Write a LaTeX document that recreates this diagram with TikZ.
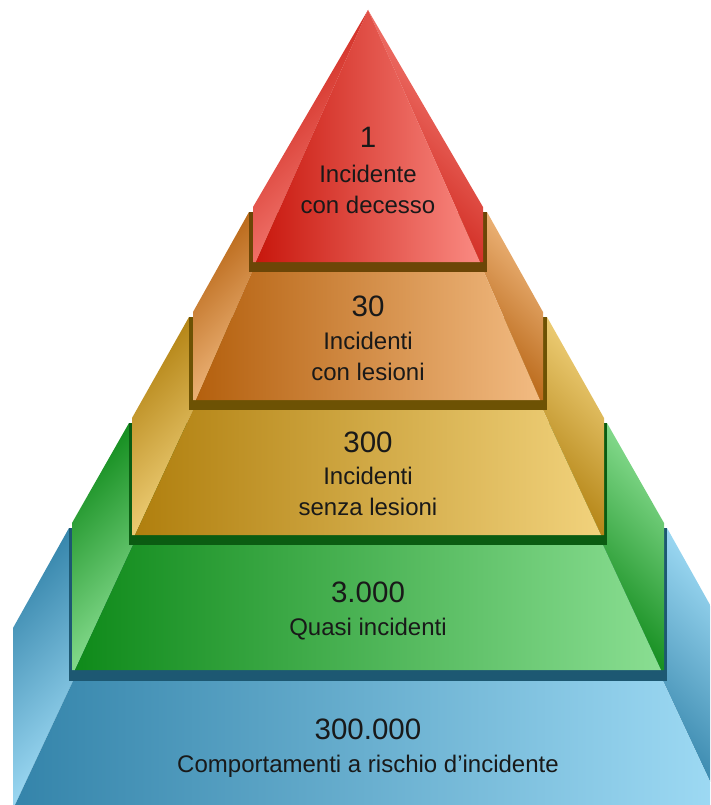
\documentclass[tikz,border=0pt]{standalone}
\usepackage{fontspec}
\setmainfont{Liberation Sans}
\usetikzlibrary{positioning}

% face colours: D = dark (left), L = light (right), F = rim under the tier above
\definecolor{redD}{HTML}{C8170D}
\definecolor{redL}{HTML}{FA8A82}
\definecolor{orgD}{HTML}{B4600E}
\definecolor{orgL}{HTML}{F2BB82}
\definecolor{orgF}{HTML}{6C4607}
\definecolor{yelD}{HTML}{B07F0E}
\definecolor{yelL}{HTML}{F1D27C}
\definecolor{yelF}{HTML}{6D5204}
\definecolor{grnD}{HTML}{0F8A1A}
\definecolor{grnL}{HTML}{8ADE92}
\definecolor{grnF}{HTML}{0B5C12}
\definecolor{bluD}{HTML}{3484AA}
\definecolor{bluL}{HTML}{9EDAF4}
\definecolor{bluF}{HTML}{1D5872}

\begin{document}
\begin{tikzpicture}[x=1pt, y=-1pt]
  \tikzstyle{num} = [anchor=base, inner sep=0pt, text=black!90, font=\fontsize{29.5}{34}\selectfont]
  \tikzstyle{lbl} = [anchor=base, inner sep=0pt, text=black!90, align=center, font=\fontsize{24}{30.5}\selectfont]

  \useasboundingbox (0,0) rectangle (710,805);
  \clip (0,0) rectangle (710,805);

  \begin{scope}[shift={(368,0)}]
    % tiers from the bottom up: name/rim half width/rim top/outer half width/
    % kink/front top half width/front top/front bottom half width/front bottom
    \foreach \tc/\F/\yF/\O/\yS/\T/\yT/\B/\yB in {
        blu/299/528/355/628/295/681/353/805,
        grn/239/423/296/523/235/545/293/670,
        yel/179/317/236/418/175/410/233/535,
        org/119/212/175/312/116/272/172/400}
    {
      \shade[top color=\tc D, bottom color=\tc L, shading angle=45]
        (-\F,\yF) -- (-\O,\yS) -- (-\O,\yB) -- (-\B,\yB) -- (-\T,\yT) -- (-\F,\yT) -- cycle;
      \shade[top color=\tc L, bottom color=\tc D, shading angle=-45]
        (\F,\yF) -- (\O,\yS) -- (\O,\yB) -- (\B,\yB) -- (\T,\yT) -- (\F,\yT) -- cycle;
      \shade[left color=\tc D, right color=\tc L]
        (-\T,\yT) -- (\T,\yT) -- (\B,\yB) -- (-\B,\yB) -- cycle;
      % dark rim the next tier stands in
      \fill[\tc F] (-\F,\yF) rectangle (\F,\yT);
    }

    % top
    \shade[top color=redD, bottom color=redL, shading angle=45]
      (0,10) -- (-115,207) -- (-115,262) -- (-112,262) -- cycle;
    \shade[top color=redL, bottom color=redD, shading angle=-45]
      (0,10) -- (115,207) -- (115,262) -- (112,262) -- cycle;
    \shade[left color=redD, right color=redL]
      (0,10) -- (112,262) -- (-112,262) -- cycle;

    % base of a two-line label is its last line
    \node (n1) [num] at (0,148) {1};
    \node (l1) [lbl] at (0,213) {Incidente\\con decesso};
    \node (n2) [num] at (0,316) {30};
    \node (l2) [lbl] at (0,380) {Incidenti\\con lesioni};
    \node (n3) [num] at (0,452) {300};
    \node (l3) [lbl] at (0,515) {Incidenti\\senza lesioni};
    \node (n4) [num] at (0,602) {3.000};
    \node (l4) [lbl] at (0,635) {Quasi incidenti};
    \node (n5) [num] at (0,739) {300.000};
    \node (l5) [lbl] at (0,772) {Comportamenti a rischio d’incidente};
  \end{scope}
\end{tikzpicture}
\end{document}
